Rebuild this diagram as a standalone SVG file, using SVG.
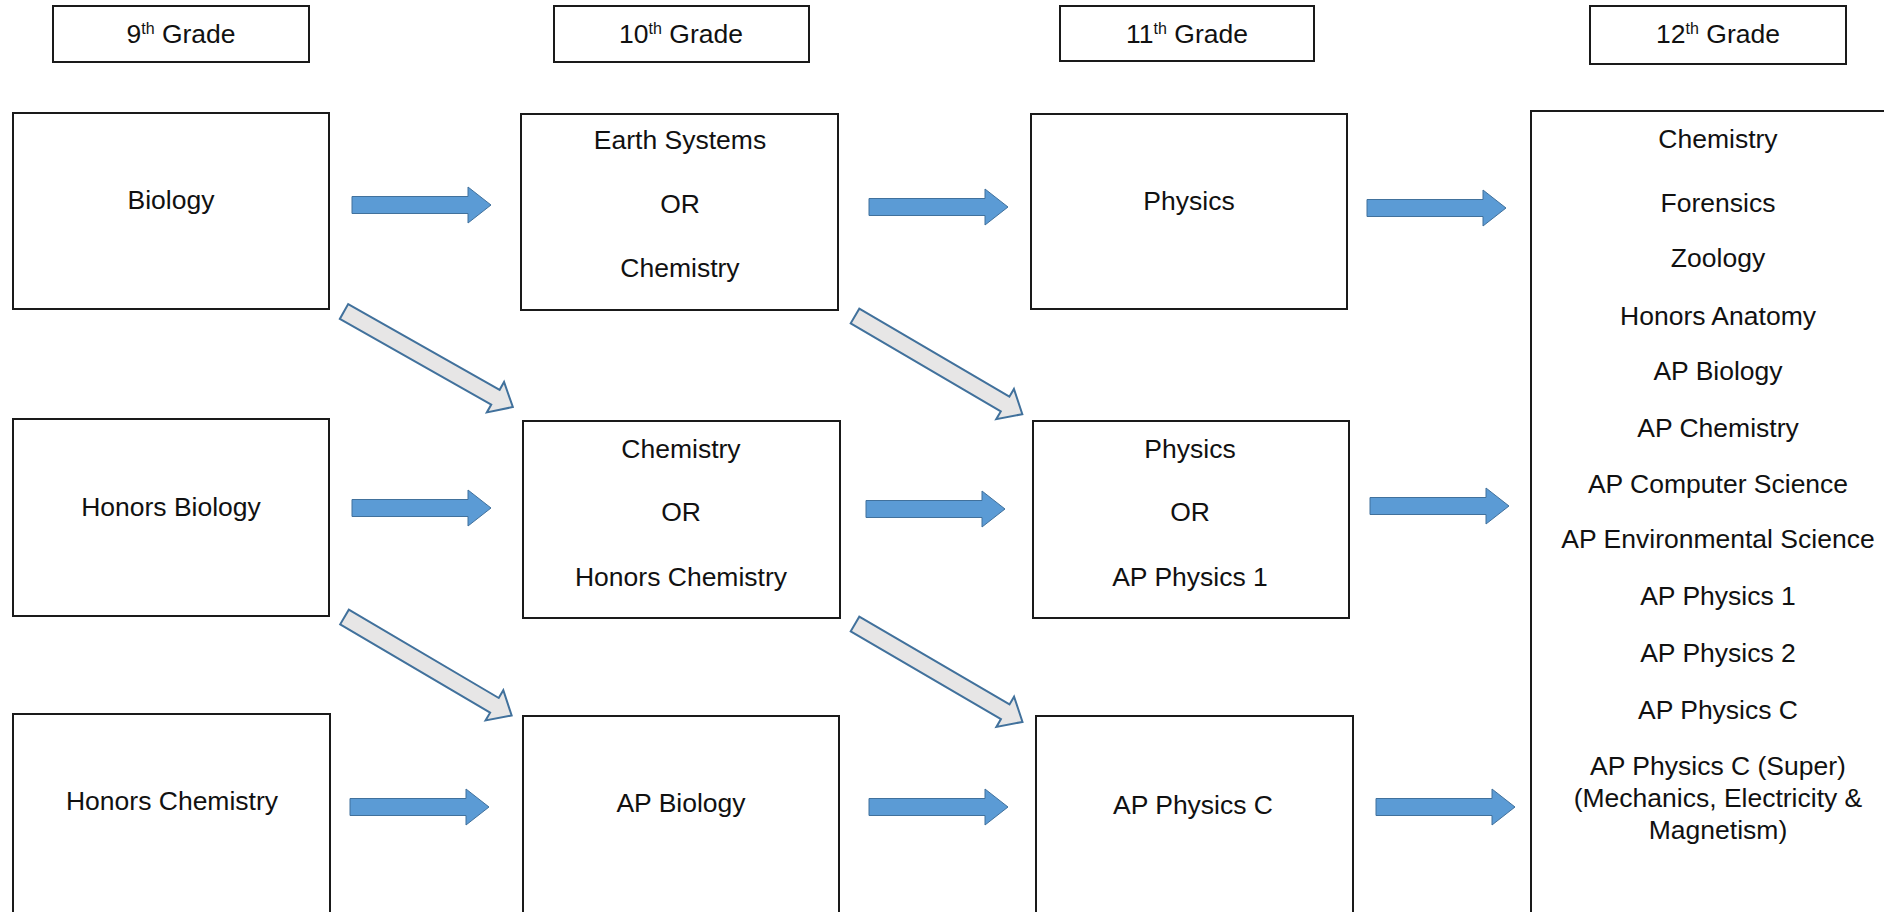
<svg xmlns="http://www.w3.org/2000/svg" width="1884" height="912" viewBox="0 0 1884 912">
<style>
  .box { fill: #ffffff; stroke: #1a1a1a; stroke-width: 2; }
  .t { font-family: "Liberation Sans", Arial, sans-serif; font-size: 26.5px; fill: #111111; text-anchor: middle; }
  .sup { font-size: 16px; }
  .harrow { fill: #5B9BD5; stroke: #41719C; stroke-width: 1; }
  .darrow { fill: #E7E6E6; stroke: #41719C; stroke-width: 2; }
</style>
<defs>
  <path id="hA" d="M0,-8.5 H116 V-18 L139,0 L116,18 V8.5 H0 Z"/>
  <path id="dA" d="M0,-8.5 H174 V-17.5 L194,0 L174,17.5 V8.5 H0 Z"/>
</defs>
<rect width="1884" height="912" fill="#ffffff"/>

<g id="h9">
  <rect class="box" x="53" y="6" width="256" height="56"/>
  <text class="t" x="181" y="43">9<tspan class="sup" dy="-9">th</tspan><tspan dy="9"> Grade</tspan></text>
</g>
<g id="h10">
  <rect class="box" x="554" y="6" width="255" height="56"/>
  <text class="t" x="681" y="43">10<tspan class="sup" dy="-9">th</tspan><tspan dy="9"> Grade</tspan></text>
</g>
<g id="h11">
  <rect class="box" x="1060" y="6" width="254" height="55"/>
  <text class="t" x="1187" y="43">11<tspan class="sup" dy="-9">th</tspan><tspan dy="9"> Grade</tspan></text>
</g>
<g id="h12">
  <rect class="box" x="1590" y="6" width="256" height="58"/>
  <text class="t" x="1718" y="43">12<tspan class="sup" dy="-9">th</tspan><tspan dy="9"> Grade</tspan></text>
</g>

<g id="biology">
  <rect class="box" x="13" y="113" width="316" height="196"/>
  <text class="t" x="171" y="209">Biology</text>
</g>
<g id="honors-biology">
  <rect class="box" x="13" y="419" width="316" height="197"/>
  <text class="t" x="171" y="516">Honors Biology</text>
</g>
<g id="honors-chemistry">
  <rect class="box" x="13" y="714" width="317" height="210"/>
  <text class="t" x="172" y="810">Honors Chemistry</text>
</g>

<g id="earth-or-chem">
  <rect class="box" x="521" y="114" width="317" height="196"/>
  <text class="t" x="680" y="149">Earth Systems</text>
  <text class="t" x="680" y="213">OR</text>
  <text class="t" x="680" y="277">Chemistry</text>
</g>
<g id="chem-or-honchem">
  <rect class="box" x="523" y="421" width="317" height="197"/>
  <text class="t" x="681" y="458">Chemistry</text>
  <text class="t" x="681" y="521">OR</text>
  <text class="t" x="681" y="586">Honors Chemistry</text>
</g>
<g id="ap-biology">
  <rect class="box" x="523" y="716" width="316" height="210"/>
  <text class="t" x="681" y="812">AP Biology</text>
</g>

<g id="physics">
  <rect class="box" x="1031" y="114" width="316" height="195"/>
  <text class="t" x="1189" y="210">Physics</text>
</g>
<g id="physics-or-ap1">
  <rect class="box" x="1033" y="421" width="316" height="197"/>
  <text class="t" x="1190" y="458">Physics</text>
  <text class="t" x="1190" y="521">OR</text>
  <text class="t" x="1190" y="586">AP Physics 1</text>
</g>
<g id="ap-physics-c">
  <rect class="box" x="1036" y="716" width="317" height="210"/>
  <text class="t" x="1193" y="814">AP Physics C</text>
</g>

<g id="grade12-list">
  <rect class="box" x="1531" y="111" width="400" height="820"/>
  <text class="t" x="1718" y="148">Chemistry</text>
  <text class="t" x="1718" y="212">Forensics</text>
  <text class="t" x="1718" y="267">Zoology</text>
  <text class="t" x="1718" y="325">Honors Anatomy</text>
  <text class="t" x="1718" y="380">AP Biology</text>
  <text class="t" x="1718" y="437">AP Chemistry</text>
  <text class="t" x="1718" y="493">AP Computer Science</text>
  <text class="t" x="1718" y="548">AP Environmental Science</text>
  <text class="t" x="1718" y="605">AP Physics 1</text>
  <text class="t" x="1718" y="662">AP Physics 2</text>
  <text class="t" x="1718" y="719">AP Physics C</text>
  <text class="t" x="1718" y="775">AP Physics C (Super)</text>
  <text class="t" x="1718" y="807">(Mechanics, Electricity &amp;</text>
  <text class="t" x="1718" y="839">Magnetism)</text>
</g>

<g id="connectors">
  <use href="#hA" class="harrow" transform="translate(352,205)"/>
  <use href="#hA" class="harrow" transform="translate(869,207)"/>
  <use href="#hA" class="harrow" transform="translate(1367,208)"/>
  <use href="#hA" class="harrow" transform="translate(352,508)"/>
  <use href="#hA" class="harrow" transform="translate(866,509)"/>
  <use href="#hA" class="harrow" transform="translate(1370,506)"/>
  <use href="#hA" class="harrow" transform="translate(350,807)"/>
  <use href="#hA" class="harrow" transform="translate(869,807)"/>
  <use href="#hA" class="harrow" transform="translate(1376,807)"/>
  <use href="#dA" class="darrow" transform="translate(344,311.5) rotate(29.5)"/>
  <use href="#dA" class="darrow" transform="translate(855,316) rotate(30.4)"/>
  <use href="#dA" class="darrow" transform="translate(344.5,617) rotate(30.5)"/>
  <use href="#dA" class="darrow" transform="translate(855,624) rotate(30.3)"/>
</g>
</svg>
